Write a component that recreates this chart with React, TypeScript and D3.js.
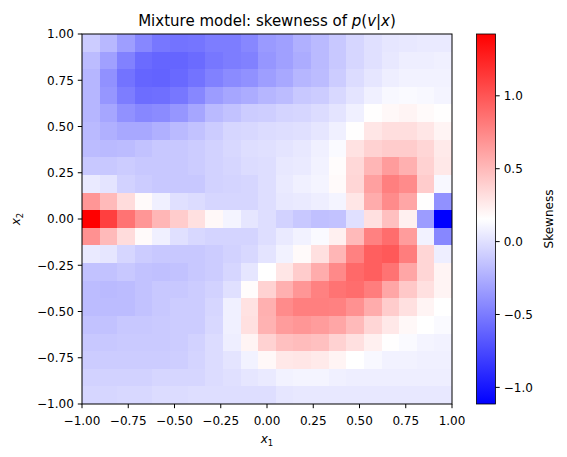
import React from 'react';
import * as d3 from 'd3';

// Skewness grid, 21 x 21 cells over [-1, 1] x [-1, 1]; rows run from x2 = 1 (top) down to x2 = -1
const skewRows: number[][] = [
  [-0.10, -0.20, -0.33, -0.44, -0.52, -0.54, -0.53, -0.49, -0.49, -0.44, -0.35, -0.32, -0.24, -0.19, -0.12, -0.05, 0.00, 0.03, 0.04, 0.05, 0.05],
  [-0.18, -0.32, -0.47, -0.58, -0.61, -0.61, -0.58, -0.52, -0.49, -0.47, -0.37, -0.32, -0.26, -0.19, -0.12, -0.05, 0.00, 0.04, 0.07, 0.07, 0.08],
  [-0.21, -0.39, -0.54, -0.61, -0.62, -0.59, -0.54, -0.47, -0.42, -0.39, -0.33, -0.28, -0.21, -0.18, -0.10, -0.02, 0.03, 0.07, 0.09, 0.09, 0.09],
  [-0.21, -0.37, -0.49, -0.57, -0.56, -0.52, -0.44, -0.34, -0.29, -0.26, -0.21, -0.18, -0.12, -0.10, -0.04, 0.02, 0.08, 0.12, 0.13, 0.12, 0.10],
  [-0.21, -0.29, -0.39, -0.44, -0.42, -0.37, -0.29, -0.19, -0.15, -0.10, -0.09, -0.06, -0.05, -0.02, 0.02, 0.08, 0.16, 0.19, 0.21, 0.18, 0.16],
  [-0.19, -0.24, -0.28, -0.28, -0.24, -0.19, -0.15, -0.10, -0.05, -0.04, -0.02, -0.01, 0.00, 0.03, 0.08, 0.16, 0.28, 0.32, 0.32, 0.28, 0.21],
  [-0.18, -0.19, -0.18, -0.15, -0.12, -0.12, -0.10, -0.07, -0.04, -0.01, 0.00, 0.02, 0.04, 0.08, 0.13, 0.30, 0.38, 0.41, 0.41, 0.36, 0.26],
  [-0.12, -0.12, -0.10, -0.12, -0.12, -0.12, -0.10, -0.07, -0.05, -0.02, -0.01, 0.04, 0.05, 0.09, 0.17, 0.35, 0.52, 0.65, 0.55, 0.38, 0.27],
  [0.05, 0.02, -0.07, -0.10, -0.12, -0.12, -0.12, -0.07, -0.06, -0.05, -0.01, 0.05, 0.08, 0.10, 0.18, 0.36, 0.63, 0.79, 0.73, 0.41, 0.12],
  [0.68, 0.50, 0.33, 0.18, 0.08, 0.00, -0.02, -0.05, -0.05, -0.05, -0.01, 0.04, 0.05, 0.07, 0.10, 0.28, 0.57, 0.73, 0.60, 0.16, -0.39],
  [1.424, 1.11, 0.85, 0.68, 0.52, 0.41, 0.31, 0.19, 0.10, 0.03, -0.01, -0.07, -0.12, -0.16, -0.15, 0.00, 0.31, 0.47, 0.23, -0.34, -1.114],
  [0.70, 0.50, 0.33, 0.18, 0.08, 0.00, -0.04, -0.06, -0.06, -0.06, -0.01, 0.05, 0.09, 0.13, 0.23, 0.50, 0.78, 0.88, 0.65, 0.09, -0.44],
  [0.05, 0.03, -0.05, -0.10, -0.12, -0.12, -0.12, -0.10, -0.07, -0.04, 0.02, 0.09, 0.18, 0.31, 0.52, 0.78, 0.95, 0.98, 0.80, 0.36, 0.07],
  [-0.15, -0.15, -0.12, -0.15, -0.16, -0.15, -0.12, -0.10, -0.05, 0.03, 0.155, 0.28, 0.41, 0.57, 0.74, 0.90, 0.95, 0.85, 0.60, 0.36, 0.21],
  [-0.18, -0.19, -0.18, -0.15, -0.12, -0.12, -0.10, -0.07, 0.00, 0.17, 0.38, 0.55, 0.68, 0.78, 0.85, 0.88, 0.80, 0.60, 0.43, 0.31, 0.21],
  [-0.18, -0.18, -0.18, -0.15, -0.12, -0.10, -0.10, -0.05, 0.08, 0.30, 0.55, 0.73, 0.79, 0.79, 0.78, 0.70, 0.57, 0.41, 0.31, 0.21, 0.155],
  [-0.15, -0.15, -0.12, -0.12, -0.11, -0.10, -0.10, -0.04, 0.08, 0.31, 0.54, 0.65, 0.68, 0.65, 0.60, 0.50, 0.36, 0.27, 0.19, 0.155, 0.13],
  [-0.12, -0.12, -0.11, -0.11, -0.11, -0.10, -0.07, -0.02, 0.07, 0.21, 0.38, 0.47, 0.49, 0.47, 0.38, 0.31, 0.23, 0.16, 0.13, 0.10, 0.09],
  [-0.10, -0.10, -0.10, -0.10, -0.10, -0.09, -0.06, -0.02, 0.02, 0.09, 0.19, 0.27, 0.28, 0.26, 0.21, 0.155, 0.12, 0.09, 0.09, 0.08, 0.08],
  [-0.07, -0.07, -0.07, -0.07, -0.05, -0.05, -0.05, -0.02, 0.00, 0.03, 0.05, 0.09, 0.10, 0.10, 0.08, 0.07, 0.07, 0.07, 0.07, 0.07, 0.07],
  [-0.05, -0.05, -0.04, -0.04, -0.02, -0.02, -0.01, -0.01, -0.01, -0.01, -0.01, 0.03, 0.04, 0.04, 0.04, 0.04, 0.04, 0.04, 0.04, 0.04, 0.04],
];

const axisTicks = [-1, -0.75, -0.5, -0.25, 0, 0.25, 0.5, 0.75, 1];
const colorbarTicks = [-1, -0.5, 0, 0.5, 1];

const W = 567;
const H = 457;
const plot = { left: 82, right: 452, top: 34, bottom: 404 };
const cbar = { left: 476.5, right: 495.5 };
const FONT = 'DejaVu Sans, sans-serif';
const TICK = 4.2;

const minus = (s: string) => s.replace('-', '\u2212');

export default function App() {
  const n = skewRows.length;
  const all = skewRows.flat();
  const [vmin, vmax] = d3.extent(all) as [number, number];

  const x = d3.scaleLinear().domain([-1, 1]).range([plot.left, plot.right]);
  const y = d3.scaleLinear().domain([-1, 1]).range([plot.bottom, plot.top]);
  const edges = d3.range(n + 1).map(i => -1 + (2 * i) / n);

  // bwr: blue -> white -> red, linear in value
  const color = d3
    .scaleLinear<string>()
    .domain([vmin, (vmin + vmax) / 2, vmax])
    .range(['#0000ff', '#ffffff', '#ff0000'])
    .interpolate(d3.interpolateRgb);

  const cy = d3.scaleLinear().domain([vmin, vmax]).range([plot.bottom, plot.top]);

  const cells: JSX.Element[] = [];
  skewRows.forEach((row, r) => {
    row.forEach((v, c) => {
      const x0 = Math.round(x(edges[c]));
      const x1 = Math.round(x(edges[c + 1]));
      const y0 = Math.round(y(edges[n - r]));
      const y1 = Math.round(y(edges[n - r - 1]));
      cells.push(
        <rect key={`${r}-${c}`} x={x0} y={y0} width={x1 - x0} height={y1 - y0} fill={color(v)} />
      );
    });
  });

  return (
    <div style={{ position: 'fixed', left: 0, top: 0 }}>
      <svg width={W} height={H} style={{ display: 'block', background: '#fff' }} fontFamily={FONT}>
        <defs>
          <linearGradient id="bwr" x1="0" y1="1" x2="0" y2="0">
            <stop offset="0%" stopColor="#0000ff" />
            <stop offset="50%" stopColor="#ffffff" />
            <stop offset="100%" stopColor="#ff0000" />
          </linearGradient>
        </defs>

        <g shapeRendering="crispEdges">{cells}</g>

        <rect
          x={plot.left}
          y={plot.top}
          width={plot.right - plot.left}
          height={plot.bottom - plot.top}
          fill="none"
          stroke="#000"
          strokeWidth={1}
        />

        {/* x axis */}
        {axisTicks.map(t => (
          <g key={`xt${t}`}>
            <line x1={x(t)} x2={x(t)} y1={plot.bottom} y2={plot.bottom + TICK} stroke="#000" strokeWidth={1} />
            <text x={x(t)} y={plot.bottom + 21} fontSize={12} textAnchor="middle">
              {minus(d3.format('.2f')(t))}
            </text>
          </g>
        ))}
        {/* y axis */}
        {axisTicks.map(t => (
          <g key={`yt${t}`}>
            <line x1={plot.left - TICK} x2={plot.left} y1={y(t)} y2={y(t)} stroke="#000" strokeWidth={1} />
            <text x={plot.left - TICK - 4} y={y(t)} dy="0.36em" fontSize={12} textAnchor="end">
              {minus(d3.format('.2f')(t))}
            </text>
          </g>
        ))}

        <text x={(plot.left + plot.right) / 2} y={443} fontSize={12} textAnchor="middle">
          <tspan fontStyle="italic">x</tspan>
          <tspan fontSize={8.5} dy={2.5}>1</tspan>
        </text>
        <text transform={`translate(20, ${(plot.top + plot.bottom) / 2}) rotate(-90)`} fontSize={12} textAnchor="middle">
          <tspan fontStyle="italic">x</tspan>
          <tspan fontSize={8.5} dy={2.5}>2</tspan>
        </text>

        <text x={(plot.left + plot.right) / 2} y={26} fontSize={15} textAnchor="middle">
          Mixture model: skewness of <tspan fontStyle="italic">p</tspan>(<tspan fontStyle="italic">v</tspan>|
          <tspan fontStyle="italic">x</tspan>)
        </text>

        {/* colorbar */}
        <rect
          x={cbar.left}
          y={plot.top}
          width={cbar.right - cbar.left}
          height={plot.bottom - plot.top}
          fill="url(#bwr)"
          stroke="#000"
          strokeWidth={0.8}
        />
        {colorbarTicks.map(t => (
          <g key={`ct${t}`}>
            <line x1={cbar.right} x2={cbar.right + TICK} y1={cy(t)} y2={cy(t)} stroke="#000" strokeWidth={1} />
            <text x={cbar.right + TICK + 4} y={cy(t)} dy="0.36em" fontSize={12}>
              {minus(d3.format('.1f')(t))}
            </text>
          </g>
        ))}
        <text transform={`translate(553, ${(plot.top + plot.bottom) / 2}) rotate(-90)`} fontSize={12} textAnchor="middle">
          Skewness
        </text>
      </svg>
    </div>
  );
}
